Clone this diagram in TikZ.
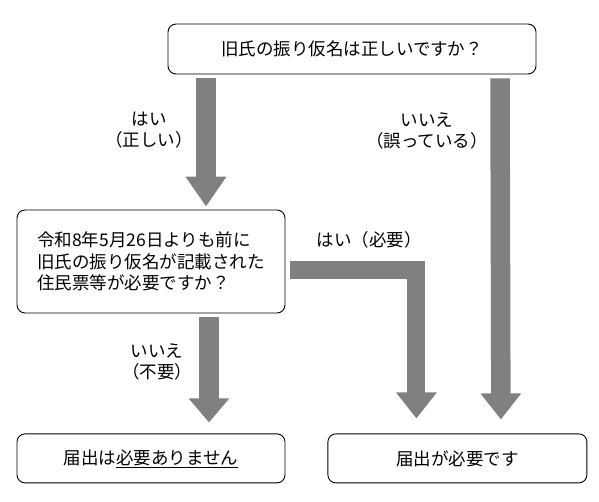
\documentclass[tikz,border=0pt]{standalone}
\usepackage{fontspec}
\setmainfont{Noto Sans CJK JP}
\usetikzlibrary{arrows.meta,positioning}
\definecolor{flowgray}{RGB}{128,128,128}

\begin{document}
\begin{tikzpicture}[
    x=1pt, y=-1pt,
    box/.style={draw=black, line width=0.9pt, rounded corners=8pt, inner sep=0pt, font=\fontsize{17.5}{21.5}\selectfont},
    lbl/.style={align=center, inner sep=0pt, font=\fontsize{17.5}{21.5}\selectfont},
    bigarrow/.style={draw=flowgray, line width=19.5pt, -{Triangle[width=39pt,length=26pt]}}
]
\useasboundingbox (0,0) rectangle (599,502);
\node[box, minimum width=368pt, minimum height=50pt] (q1) at (352,49) {旧氏の振り仮名は正しいですか？};
\node[box, minimum width=268pt, minimum height=103pt, align=left] (q2) at (151,261.5) {令和8年5月26日よりも前に\\旧氏の振り仮名が記載された\\住民票等が必要ですか？};
\node[box, minimum width=268pt, minimum height=49pt, below=120pt of q2] (n1) {届出は\underline{必要ありません}};
\node[box, minimum width=259pt, minimum height=49pt, right=42pt of n1] (n2) {届出が必要です};
% arrows
\draw[bigarrow, -{Triangle[width=39pt,length=30pt]}] ([xshift=-146pt,yshift=-4pt]q1.south) -- ([xshift=55pt,yshift=3pt]q2.north);
\draw[bigarrow] ([xshift=148pt,yshift=-4pt]q1.south) -- ([xshift=43.5pt,yshift=14pt]n2.north);
\draw[bigarrow, -{Triangle[width=39pt,length=24pt]}] ([xshift=58pt,yshift=-4pt]q2.south) -- ([xshift=58pt,yshift=11pt]n1.north);
\draw[bigarrow, line width=18pt] ([xshift=5pt,yshift=-9pt]q2.east) -| ([xshift=-41pt,yshift=15pt]n2.north);
% labels
\node[lbl] (yes1) at (149,130) {はい\\（正しい）};
\node[lbl] (no1) at (427,131) {いいえ\\（誤っている）};
\node[lbl] (yes2) at (369,240) {はい（必要）};
\node[lbl] (no2) at (157,362) {いいえ\\（不要）};
\end{tikzpicture}
\end{document}
